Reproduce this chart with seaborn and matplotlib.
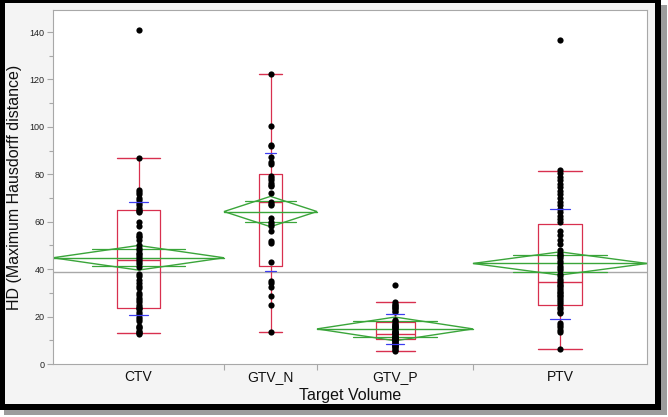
import numpy as np
import pandas as pd
import matplotlib
matplotlib.use("Agg")
import matplotlib.pyplot as plt
import seaborn as sns
from matplotlib.patches import Rectangle, Polygon

# ---------------- data ----------------
categories = ["CTV", "GTV_N", "GTV_P", "PTV"]

ctv_values = [141.0, 87.0, 73.5, 72.5, 71.5, 70.0, 69.0, 68.0, 67.0, 66.0, 65.0, 64.5, 64.0,
              60.0, 58.0, 55.0, 54.0, 53.5, 52.5, 50.0, 49.0, 48.0, 47.0, 46.5, 45.5, 44.5, 44.0,
              43.0, 42.0, 41.0, 38.0, 37.0, 35.5, 34.0, 33.0, 32.0, 30.0, 29.0, 28.0, 27.0, 26.0,
              25.0, 24.0, 23.5, 23.0, 22.0, 21.0, 20.0, 19.0, 18.0, 16.0, 15.5, 15.0, 14.0, 13.5,
              13.0, 12.8]
gtvn_values = [122.5, 100.5, 92.5, 92.0, 87.5, 85.0, 84.5, 79.5, 78.5, 77.5, 76.5, 75.5, 75.0,
               72.0, 68.5, 67.5, 67.0, 61.5, 60.0, 59.0, 58.0, 56.0, 52.0, 51.0, 43.0, 35.0,
               34.0, 32.5, 28.5, 25.0, 13.5]
gtvp_values = [33.5, 26.0, 25.5, 25.0, 24.5, 24.0, 23.5, 23.0, 22.5, 22.0, 18.5, 18.0, 17.5,
               17.0, 16.5, 16.0, 16.0, 15.5, 15.0, 15.0, 14.5, 14.0, 13.5, 13.5, 13.0, 13.0,
               12.5, 12.5, 12.0, 12.0, 11.5, 11.5, 11.0, 11.0, 10.5, 10.5, 10.0, 10.0, 9.5, 9.5,
               9.0, 9.0, 8.5, 8.5, 8.0, 8.0, 7.5, 7.0, 7.0, 6.5, 6.0, 5.5]
ptv_values = [136.5, 82.0, 80.5, 79.0, 77.5, 76.0, 74.5, 73.0, 71.5, 70.0, 68.5, 67.0, 65.5,
              64.0, 62.5, 61.0, 60.0, 56.0, 54.5, 52.5, 50.5, 48.0, 47.0, 46.0, 45.5, 44.5,
              43.5, 42.5, 41.5, 40.5, 39.5, 38.0, 37.0, 36.0, 35.0, 34.0, 33.5, 33.0, 32.0,
              31.0, 30.5, 30.0, 29.0, 28.5, 28.0, 27.0, 26.0, 25.5, 24.0, 23.0, 22.0, 21.5,
              17.5, 16.5, 15.5, 14.5, 13.5, 6.5]

# summary statistics
means = [44.8, 64.3, 14.8, 42.4]
ci_half = [5.2, 6.4, 5.0, 4.9]
q1 = [23.5, 41.2, 10.5, 24.7]
medians = [43.8, 68.3, 12.8, 34.4]
q3 = [64.8, 80.2, 17.7, 59.0]
whisk_lo = [12.9, 13.4, 5.5, 6.4]
whisk_hi = [86.8, 122.3, 26.0, 81.6]
sd_lo = [20.7, 39.2, 8.4, 19.0]
sd_hi = [68.2, 88.8, 21.1, 65.5]
grand_mean = 38.9

y_ticks = [0, 20, 40, 60, 80, 100, 120, 140]
y_minor = [10, 30, 50, 70, 90, 110, 130]

# ---------------- style ----------------
RED = "#d8304f"
GREEN = "#3aa53a"
BLUE = "#3c3cf0"
GRAY = "#a8a8a8"

sns.set_style("white")
plt.rcParams["font.family"] = ["Liberation Sans", "DejaVu Sans"]

groups = [ctv_values, gtvn_values, gtvp_values, ptv_values]
counts = np.array([len(g) for g in groups], dtype=float)
bounds = np.concatenate([[0], np.cumsum(counts)])
centers = (bounds[:-1] + bounds[1:]) / 2
widths = counts

df = pd.DataFrame({
    "group": np.repeat(categories, counts.astype(int)),
    "value": np.concatenate(groups),
})
df["x"] = df["group"].map(dict(zip(categories, centers)))

fig = plt.figure(figsize=(6.68, 4.17), dpi=100)
fig.patch.set_facecolor("white")
W, H = 668.0, 417.0
# shadow, black frame, light panel
fig.patches.append(Rectangle((4 / W, 2 / H), 663 / W, 410 / H, transform=fig.transFigure,
                             facecolor="#9c9c9c", edgecolor="none", zorder=-3))
fig.patches.append(Rectangle((0, 7 / H), 661 / W, 410 / H, transform=fig.transFigure,
                             facecolor="black", edgecolor="none", zorder=-2))
fig.patches.append(Rectangle((5 / W, 13 / H), 650 / W, 401 / H, transform=fig.transFigure,
                             facecolor="#f4f4f4", edgecolor="none", zorder=-1))

ax = fig.add_axes([53 / W, 53 / H, 594 / W, 354 / H])
ax.set_facecolor("white")

# grand mean
ax.axhline(grand_mean, color=GRAY, lw=1.0, zorder=1)

# box plots
bw = 0.25 * widths
stats = []
for i in range(4):
    stats.append(dict(med=medians[i], q1=q1[i], q3=q3[i],
                      whislo=whisk_lo[i], whishi=whisk_hi[i], fliers=[]))
ax.bxp(stats, positions=centers, widths=bw, capwidths=bw, showfliers=False,
       manage_ticks=False, zorder=2,
       boxprops=dict(color=RED, lw=0.9),
       whiskerprops=dict(color=RED, lw=0.9),
       capprops=dict(color=RED, lw=1.0),
       medianprops=dict(color=RED, lw=1.0))

# means diamonds
for i in range(4):
    l, r, c = bounds[i], bounds[i + 1], centers[i]
    m, h = means[i], ci_half[i]
    ax.add_patch(Polygon([(l, m), (c, m + h), (r, m), (c, m - h)], closed=True,
                         fill=False, edgecolor=GREEN, lw=1.0, zorder=2.5))
    ax.plot([l, r], [m, m], color=GREEN, lw=1.0, zorder=2.5)
    ow = 0.27 * widths[i]
    for s in (1, -1):
        yy = m + s * h * 0.7071
        ax.plot([c - ow, c + ow], [yy, yy], color=GREEN, lw=0.9, zorder=2.5)

# points
sns.scatterplot(data=df, x="x", y="value", color="black", s=20, linewidth=0,
                ax=ax, zorder=3, legend=False)

# standard deviation marks
for i in range(4):
    hw = 0.055 * widths[i]
    for yy in (sd_lo[i], sd_hi[i]):
        ax.plot([centers[i] - hw, centers[i] + hw], [yy, yy], color=BLUE, lw=0.9, zorder=4)

ax.set_xlim(0, bounds[-1])
ax.set_ylim(0, 149.3)

ax.set_xticks(centers)
ax.set_xticklabels(categories, fontsize=10, color="#111111")
ax.set_xticks(bounds[1:-1], minor=True)
ax.tick_params(axis="x", which="major", length=0, pad=4)
ax.tick_params(axis="x", which="minor", length=4, color=GRAY, width=0.8, direction="out", bottom=True)

ax.set_yticks(y_ticks)
ax.set_yticklabels([str(t) for t in y_ticks], fontsize=6.5, color="#222222")
ax.set_yticks(y_minor, minor=True)
ax.tick_params(axis="y", which="major", length=4, color=GRAY, width=0.8, pad=2, left=True)
ax.tick_params(axis="y", which="minor", length=3, color=GRAY, width=0.8, left=True)

for sp in ax.spines.values():
    sp.set_color(GRAY)
    sp.set_linewidth(0.8)

ax.set_xlabel("Target Volume", fontsize=11.5, color="#111111", labelpad=3)
ax.set_ylabel("HD (Maximum Hausdorff distance)", fontsize=11.5, color="#111111")
ax.yaxis.set_label_coords(-0.052, 0.5)

fig.savefig("out.png", dpi=100, facecolor=fig.get_facecolor())
